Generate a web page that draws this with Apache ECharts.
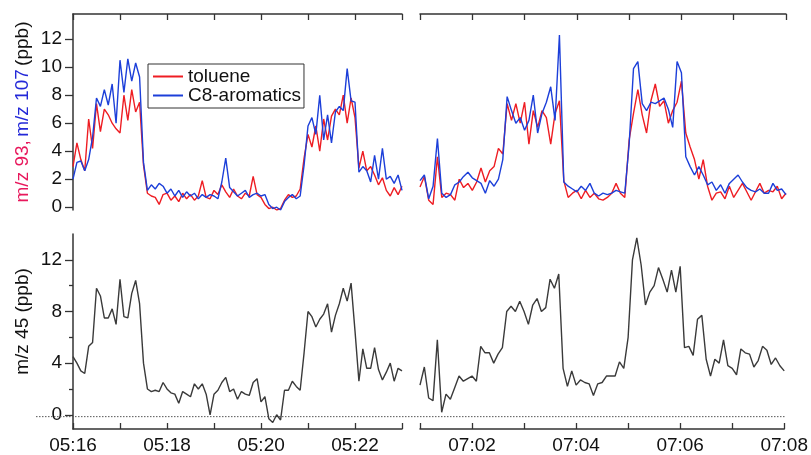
<!DOCTYPE html>
<html>
<head>
<meta charset="utf-8">
<title>m/z 93, 107, 45</title>
<script src="https://cdn.jsdelivr.net/npm/echarts@6/dist/echarts.min.js"></script>
<style>
    html, body {margin: 0; padding: 0; background: #fff;}
    #my_chart {width: 811px; height: 455px;}
</style>
</head>
<body>
<div id="my_chart"></div>
<script>
// sampling: one point every 5 s, both segments 7 min long
var step = 5;
var leftStart = 5 * 3600 + 16 * 60;   // 05:16:00
var rightStart = 7 * 3600 + 1 * 60;   // 07:01:00

var leftTimeLabels = ['05:16', '05:18', '05:20', '05:22'];
var rightTimeLabels = ['07:02', '07:04', '07:06', '07:08'];
var topYTicks = [0, 2, 4, 6, 8, 10, 12];
var bottomYTicks = [0, 4, 8, 12];
var bottomYMinor = [2, 6, 10];
var zeroLine = [0, 0];

// m/z 93 (toluene), 05:16 - 05:23
var toluene05 = [2.9, 4.6, 3.4, 2.6, 6.3, 4.2, 7.4, 5.4, 7.0, 6.6,
    6.0, 5.6, 5.3, 8.0, 6.2, 8.4, 6.8, 7.5, 3.0, 1.0,
    0.8, 0.7, 0.2, 0.9, 1.0, 0.5, 0.8, 0.4, 1.0, 0.6,
    0.9, 0.5, 0.8, 1.9, 0.7, 0.6, 1.2, 0.9, 1.6, 1.1,
    0.7, 1.3, 0.8, 0.6, 1.0, 0.8, 2.2, 0.9, 0.7, 0.2,
    -0.1, 0.0, -0.2, -0.1, 0.5, 0.9, 0.7, 0.8, 1.3, 3.5,
    5.2, 4.3, 5.8, 4.0, 6.3, 4.8, 6.5, 7.0, 6.6, 8.0,
    6.0, 7.8, 6.4, 2.8, 4.0, 2.6, 2.9, 2.3, 1.6, 2.1,
    1.2, 0.8, 1.4, 0.9, 1.5];
// m/z 107 (C8-aromatics), 05:16 - 05:23
var c8_05 = [2.0, 3.2, 3.3, 2.6, 3.4, 5.0, 7.8, 7.2, 8.4, 7.3,
    8.8, 6.0, 10.5, 8.2, 10.6, 9.0, 10.3, 9.3, 3.2, 1.2,
    1.6, 1.3, 1.7, 1.5, 1.0, 1.3, 0.8, 1.2, 0.7, 1.1,
    0.8, 1.0, 0.6, 0.9, 0.7, 0.9, 0.8, 0.6, 1.8, 3.5,
    1.4, 1.1, 0.8, 1.0, 1.2, 0.7, 0.9, 1.0, 0.8, 0.9,
    0.2, -0.1, 0.0, -0.2, 0.4, 0.7, 0.9, 0.6, 0.8, 3.0,
    5.8, 6.4, 5.2, 8.0, 4.8, 6.6, 4.6, 6.8, 7.2, 6.9,
    9.9, 7.6, 7.5, 2.5, 2.9, 2.6, 1.8, 3.7, 2.0, 4.2,
    2.0, 2.2, 1.7, 2.3, 1.2];
// m/z 93, 07:01 - 07:08
var toluene07 = [1.45, 2.2, 0.5, 0.2, 3.6, 0.7, 1.0, 0.9, 0.5, 2.0,
    1.4, 1.7, 1.2, 1.8, 2.8, 1.8, 2.6, 2.9, 4.2, 3.8,
    7.4, 6.2, 7.4, 6.0, 7.5, 4.5, 6.9, 5.7, 6.9, 6.4,
    4.5, 6.7, 7.6, 1.9, 0.7, 1.0, 1.2, 0.6, 1.2, 0.7,
    1.0, 0.6, 0.5, 0.7, 1.0, 1.7, 1.0, 0.7, 4.8, 6.7,
    8.4, 6.6, 5.3, 7.6, 8.8, 7.2, 7.6, 6.0, 6.9, 7.5,
    9.0, 5.3, 4.3, 3.4, 2.0, 3.4, 1.5, 0.5, 1.0, 1.1,
    0.6, 1.5, 0.7, 1.2, 1.7, 1.1, 0.5, 1.1, 1.7, 1.0,
    1.2, 1.1, 1.5, 0.6, 1.0];
// m/z 107, 07:01 - 07:08
var c8_07 = [1.9, 2.3, 0.6, 1.5, 4.9, 1.0, 0.7, 0.9, 1.6, 1.8,
    2.2, 2.5, 2.1, 1.9, 1.7, 1.0, 1.9, 1.5, 2.0, 3.4,
    7.9, 6.9, 6.0, 6.4, 5.5, 6.2, 8.0, 5.3, 6.7, 7.5,
    8.6, 6.2, 12.3, 1.8, 1.5, 1.3, 1.1, 1.5, 1.2, 1.7,
    1.0, 0.8, 1.0, 0.9, 1.0, 1.2, 1.1, 1.0, 4.5, 9.9,
    10.4, 7.4, 6.9, 7.5, 7.4, 7.6, 7.8, 7.0, 5.7, 10.4,
    9.6, 3.6, 2.9, 2.3, 2.9, 2.3, 1.6, 1.8, 1.2, 1.6,
    1.0, 1.7, 2.0, 2.3, 1.8, 1.4, 1.2, 1.1, 1.3, 1.0,
    1.0, 1.7, 1.2, 1.3, 0.9];
// m/z 45, 05:16 - 05:23
var m45_05 = [4.5, 4.0, 3.4, 3.2, 5.3, 5.6, 9.8, 9.2, 7.5, 7.5,
    8.2, 7.0, 10.5, 7.6, 7.5, 9.4, 10.4, 8.6, 4.0, 2.0,
    1.8, 1.9, 1.8, 2.5, 2.0, 1.7, 1.6, 0.9, 1.8, 1.6,
    1.4, 2.4, 2.0, 2.4, 1.6, 0.0, 1.6, 1.9, 2.5, 2.9,
    1.8, 2.0, 1.2, 1.8, 1.6, 1.5, 2.5, 2.8, 1.0, 1.4,
    -0.3, -0.6, 0.0, -0.4, 1.9, 1.9, 2.6, 2.2, 1.9, 4.8,
    8.0, 7.6, 6.8, 7.4, 7.8, 8.6, 6.4, 7.7, 8.6, 9.8,
    8.8, 10.2, 6.5, 2.6, 5.1, 3.6, 3.6, 5.2, 3.5, 2.7,
    3.3, 4.0, 2.6, 3.6, 3.4];
// m/z 45, 07:01 - 07:08
var m45_07 = [2.3, 3.7, 1.3, 1.1, 5.8, 0.2, 1.6, 1.2, 2.1, 3.0,
    2.6, 2.8, 3.0, 2.6, 5.3, 4.8, 4.8, 4.0, 4.7, 5.2,
    8.0, 8.4, 8.0, 8.8, 8.0, 7.0, 8.5, 9.0, 8.0, 8.3,
    10.5, 9.8, 10.9, 3.6, 2.2, 3.4, 2.3, 2.7, 2.5, 2.4,
    1.5, 2.4, 2.5, 3.0, 3.0, 3.0, 4.1, 3.6, 6.0, 12.0,
    13.7, 11.6, 8.5, 9.5, 10.0, 11.4, 10.5, 9.5, 11.2, 9.5,
    11.5, 5.2, 5.3, 4.6, 7.4, 7.7, 4.3, 3.0, 4.3, 4.0,
    5.8, 3.8, 3.6, 3.1, 5.1, 4.8, 4.7, 3.7, 4.2, 5.3,
    5.0, 3.9, 4.4, 3.8, 3.4];

var font = 'Liberation Sans, Arial, sans-serif';
var axisColor = '#333';
var textColor = '#111';

function pad(num) {
    return num < 10 ? '0' + num : '' + num;
}

function toSec(label) {
    var p = label.split(':');
    return p[0] * 3600 + p[1] * 60;
}

function hhmm(sec) {
    var m = Math.round(sec / 60);
    return pad(Math.floor(m / 60)) + ':' + pad(m % 60);
}

function withTime(values, start) {
    return values.map(function (v, i) {
        return [start + i * step, v];
    });
}

function xAxisOf(gridIndex, start, labels, onTop) {
    return {
        type: 'value',
        gridIndex: gridIndex,
        position: onTop ? 'top' : 'bottom',
        min: start,
        max: start + 7 * 60,
        interval: 60,
        axisLine: {onZero: false, lineStyle: {color: axisColor, width: 1.5}},
        axisTick: {inside: true, length: 6, lineStyle: {color: axisColor, width: 1.3}},
        axisLabel: {
            show: !onTop,
            customValues: labels.map(toSec),
            formatter: hhmm,
            margin: 7,
            fontSize: 19,
            color: textColor,
            fontFamily: font
        },
        splitLine: {show: false}
    };
}

function lineSeries(name, values, start, xi, yi, color) {
    return {
        type: 'line',
        name: name,
        xAxisIndex: xi,
        yAxisIndex: yi,
        data: withTime(values, start),
        symbol: 'none',
        lineStyle: {color: color, width: 1.4},
        itemStyle: {color: color},
        z: 3
    };
}

var red = '#ee1d23';
var blue = '#1c3fd9';
var gray = '#3a3a3a';

var option = {
    backgroundColor: '#fff',
    animation: false,
    textStyle: {fontFamily: font},
    grid: [
        {left: 73, top: 14, width: 329, height: 196},
        {left: 420, top: 14, width: 366, height: 196},
        {left: 73, top: 234, width: 329, height: 197},
        {left: 420, top: 234, width: 366, height: 197},
        {left: 36, top: 234, width: 750, height: 197}   // dotted zero line
    ],
    legend: {
        data: ['toluene', 'C8-aromatics'],
        orient: 'vertical',
        left: 148,
        top: 64,
        padding: [3, 3, 3, 5],
        itemGap: 0,
        icon: 'rect',
        itemWidth: 30,
        itemHeight: 2,
        itemTextGap: 11,
        borderColor: '#333',
        borderWidth: 1,
        textStyle: {fontSize: 19, color: textColor, fontFamily: font}
    },
    xAxis: [
        xAxisOf(0, leftStart, leftTimeLabels, true),
        xAxisOf(1, rightStart, rightTimeLabels, true),
        xAxisOf(2, leftStart, leftTimeLabels, false),
        xAxisOf(3, rightStart, rightTimeLabels, false),
        {type: 'value', gridIndex: 4, min: 0, max: 1, show: false}
    ],
    yAxis: [
        {
            type: 'value', gridIndex: 0, min: -0.2, max: 13.8,
            name: '{r|m/z 93,} {b|m/z 107} {k|(ppb)}',
            nameLocation: 'middle',
            nameGap: 41,
            nameTextStyle: {
                rich: {
                    r: {color: '#e8185c', fontSize: 19, fontFamily: font},
                    b: {color: '#2328d8', fontSize: 19, fontFamily: font},
                    k: {color: textColor, fontSize: 19, fontFamily: font}
                }
            },
            axisLine: {show: true, onZero: false, lineStyle: {color: axisColor, width: 1.5}},
            axisTick: {customValues: topYTicks, length: 8, lineStyle: {color: axisColor, width: 1.3}},
            axisLabel: {customValues: topYTicks, margin: 11, fontSize: 19, color: textColor, fontFamily: font},
            splitLine: {show: false}
        },
        {type: 'value', gridIndex: 1, min: -0.2, max: 13.8, show: false},
        {
            type: 'value', gridIndex: 2, min: -1.1, max: 14,
            name: 'm/z 45 (ppb)',
            nameLocation: 'middle',
            nameGap: 41,
            nameTextStyle: {fontSize: 19, color: textColor, fontFamily: font, padding: [0, 0, 0, 20]},
            axisLine: {show: true, onZero: false, lineStyle: {color: axisColor, width: 1.5}},
            axisTick: {customValues: bottomYTicks, length: 8, lineStyle: {color: axisColor, width: 1.3}},
            axisLabel: {customValues: bottomYTicks, margin: 11, fontSize: 19, color: textColor, fontFamily: font},
            splitLine: {show: false}
        },
        {type: 'value', gridIndex: 3, min: -1.1, max: 14, show: false},
        {
            // minor ticks of the m/z 45 axis
            type: 'value', gridIndex: 2, min: -1.1, max: 14, position: 'left',
            axisLine: {show: false},
            axisTick: {show: true, customValues: bottomYMinor, length: 4, lineStyle: {color: axisColor, width: 1.3}},
            axisLabel: {show: false},
            splitLine: {show: false}
        },
        {type: 'value', gridIndex: 4, min: -1.1, max: 14, show: false}
    ],
    series: [
        lineSeries('toluene', toluene05, leftStart, 0, 0, red),
        lineSeries('C8-aromatics', c8_05, leftStart, 0, 0, blue),
        lineSeries('toluene', toluene07, rightStart, 1, 1, red),
        lineSeries('C8-aromatics', c8_07, rightStart, 1, 1, blue),
        lineSeries('m/z 45', m45_05, leftStart, 2, 2, gray),
        lineSeries('m/z 45', m45_07, rightStart, 3, 3, gray),
        {
            type: 'line',
            name: 'zero',
            xAxisIndex: 4,
            yAxisIndex: 5,
            data: zeroLine.map(function (v, i) { return [i, v]; }),
            symbol: 'none',
            silent: true,
            lineStyle: {color: '#555', width: 1, type: [1.5, 1.5]},
            z: 1
        }
    ]
};

var myChart = echarts.init(document.getElementById('my_chart'));
myChart.setOption(option);
</script>
</body>
</html>
